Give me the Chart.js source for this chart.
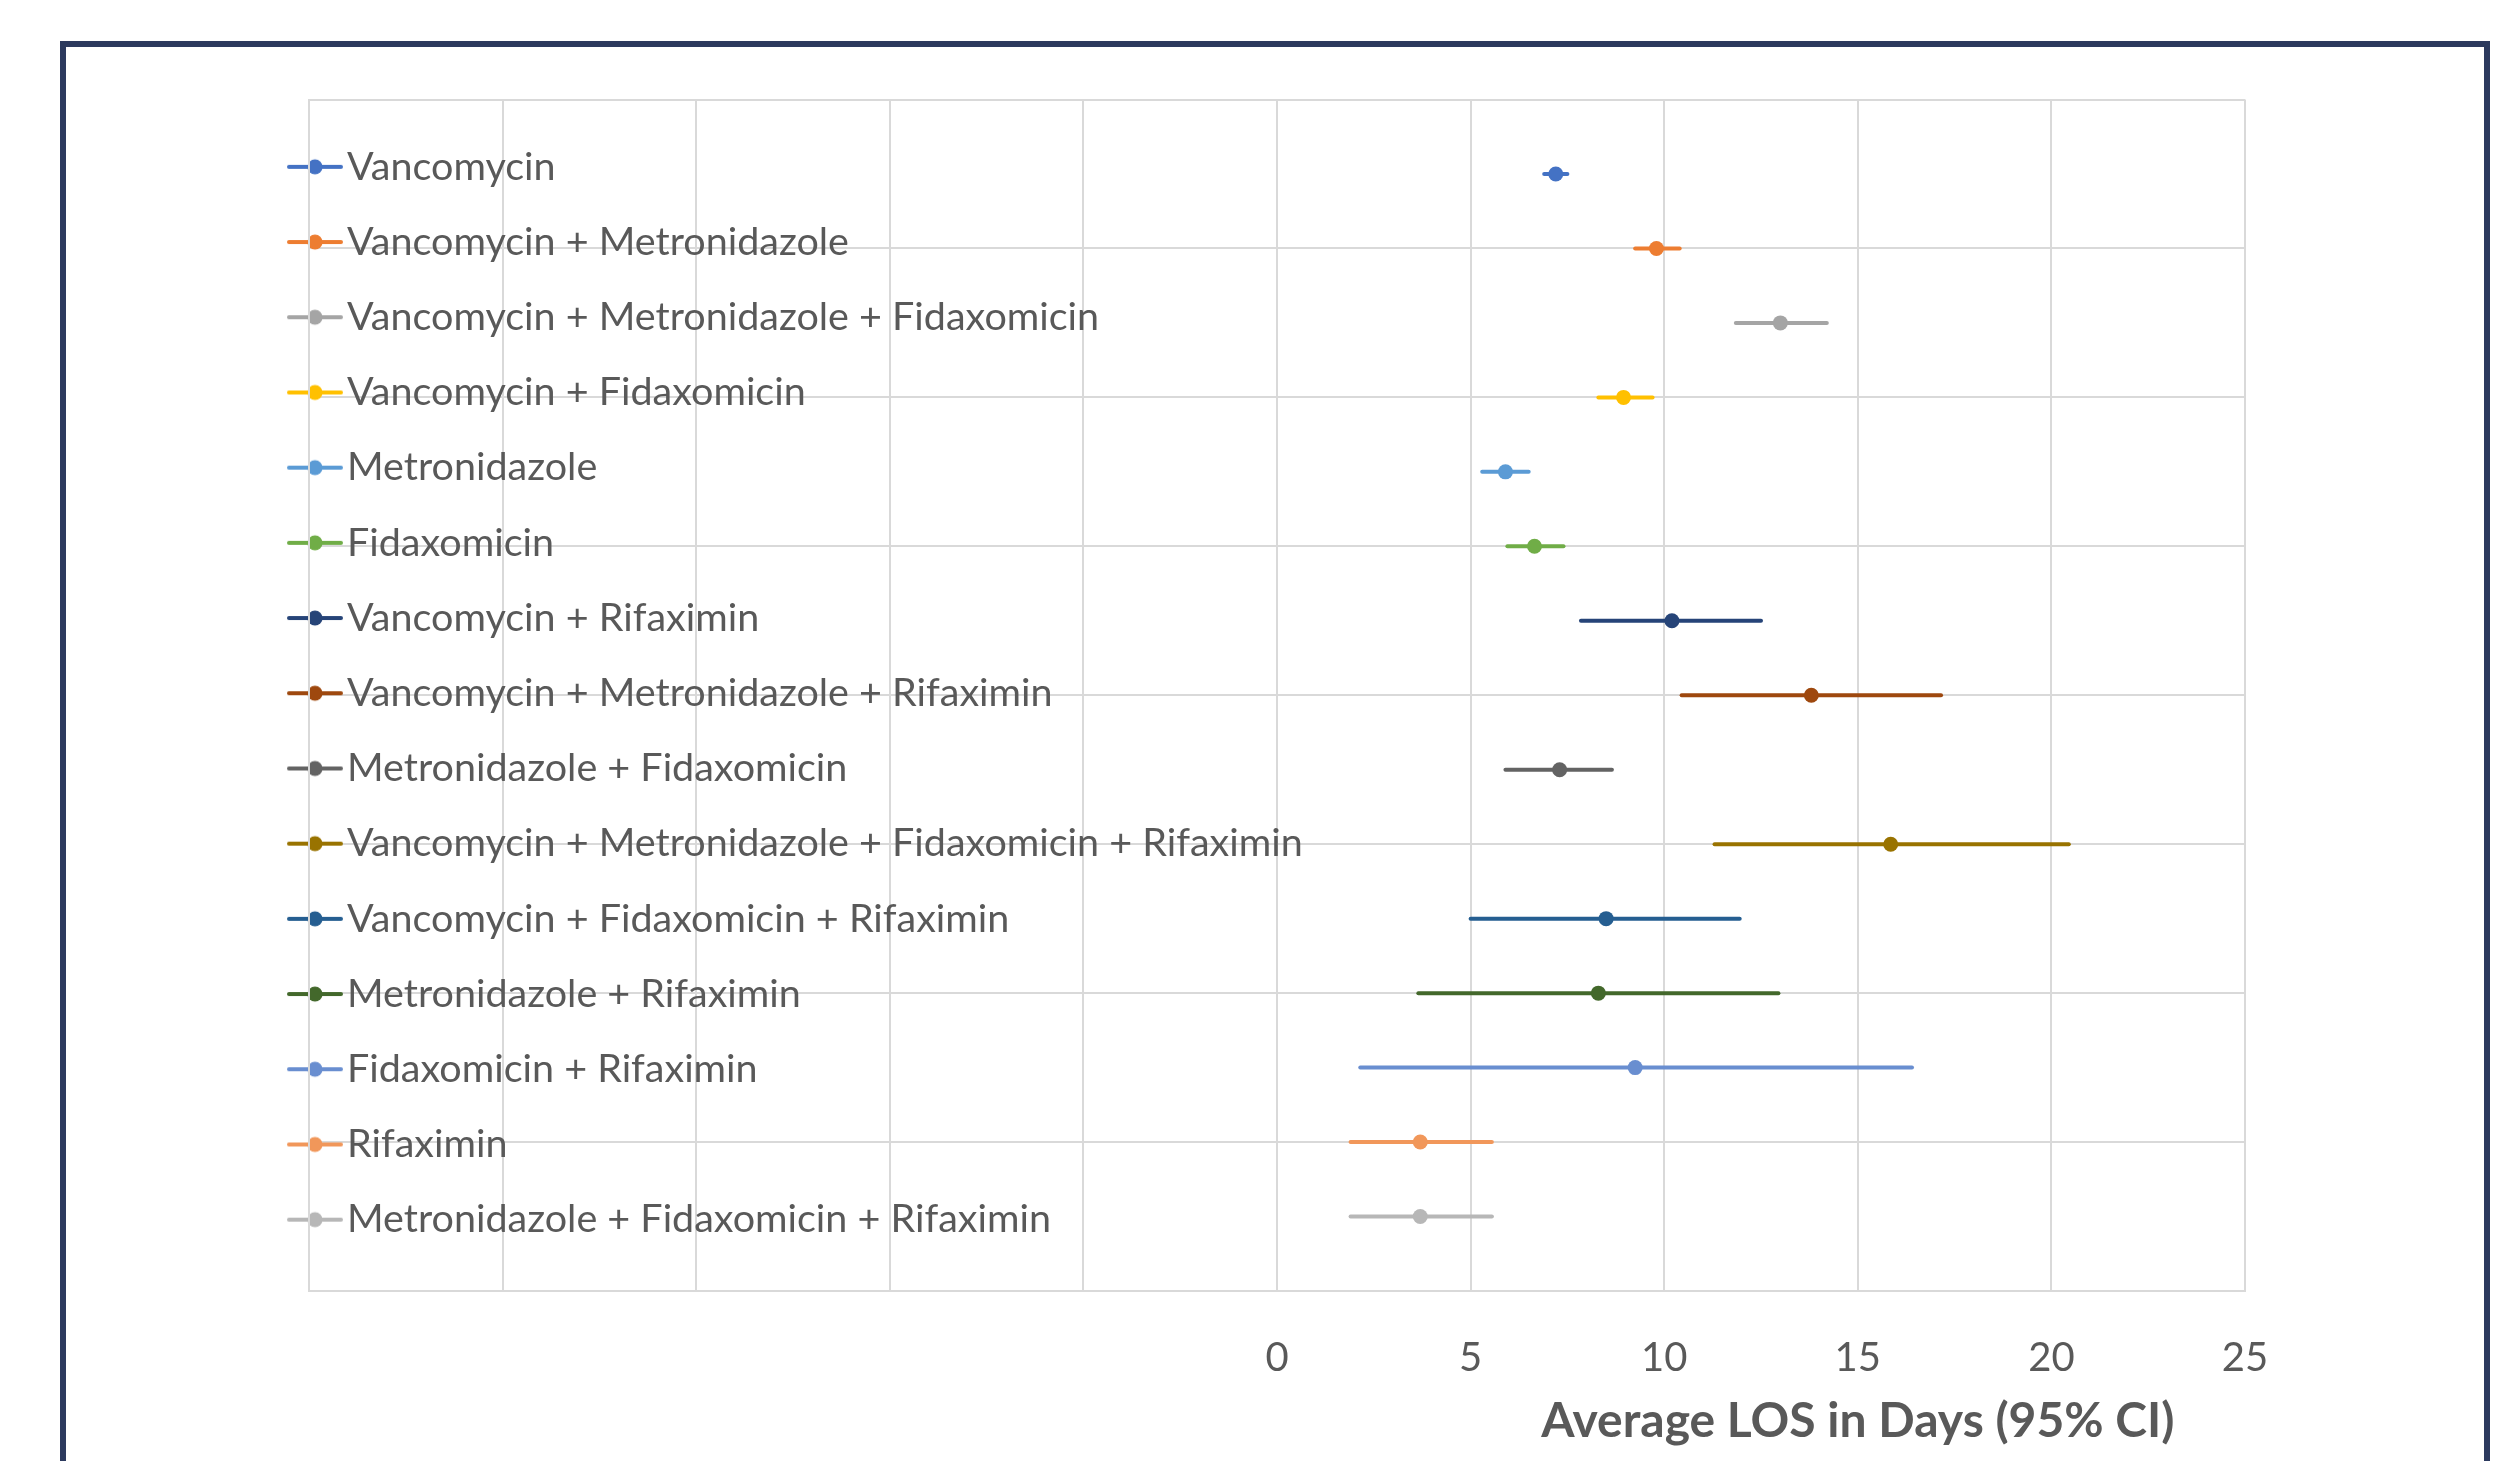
<!DOCTYPE html>
<html><head><meta charset="utf-8">
<script src="https://cdn.jsdelivr.net/npm/chart.js@4.4.1/dist/chart.umd.min.js"></script>
<style>
html,body{margin:0;padding:0;background:#fff;overflow:hidden;width:2514px;height:1461px;}
#wrap{position:relative;width:2514px;height:1461px;}
canvas{position:absolute;left:0;top:0;}
#frame{position:absolute;left:60px;top:41px;width:2418px;height:1600px;border:6px solid #2C3A5E;pointer-events:none;}
</style></head><body>
<div id="wrap"><canvas id="c" width="2514" height="1461"></canvas><div id="frame"></div></div>
<script>
// ---- data ----
const categories = [
  'Vancomycin',
  'Vancomycin + Metronidazole',
  'Vancomycin + Metronidazole + Fidaxomicin',
  'Vancomycin + Fidaxomicin',
  'Metronidazole',
  'Fidaxomicin',
  'Vancomycin + Rifaximin',
  'Vancomycin + Metronidazole + Rifaximin',
  'Metronidazole + Fidaxomicin',
  'Vancomycin + Metronidazole + Fidaxomicin + Rifaximin',
  'Vancomycin + Fidaxomicin + Rifaximin',
  'Metronidazole + Rifaximin',
  'Fidaxomicin + Rifaximin',
  'Rifaximin',
  'Metronidazole + Fidaxomicin + Rifaximin'
];
const means = [7.2, 9.8, 13.0, 8.95, 5.9, 6.65, 10.2, 13.8, 7.3, 15.85, 8.5, 8.3, 9.25, 3.7, 3.7];
const lower = [6.9, 9.25, 11.85, 8.3, 5.3, 5.95, 7.85, 10.45, 5.9, 11.3, 5.0, 3.65, 2.15, 1.9, 1.9];
const upper = [7.5, 10.4, 14.2, 9.7, 6.5, 7.4, 12.5, 17.15, 8.65, 20.45, 11.95, 12.95, 16.4, 5.55, 5.55];
const colors = ['#4472C4','#ED7D31','#A5A5A5','#FFC000','#5B9BD5','#70AD47','#264478','#9E480E',
                '#636363','#997300','#255E91','#43682B','#698ED0','#F1975A','#B7B7B7'];
const xTickLabels = [0, 5, 10, 15, 20, 25];
const axisTitle = 'Average LOS in Days (95% CI)';

// ---- styling / layout ----
const TEXT = '#595959', GRID = '#D9D9D9';
const LEG_FS = 39.5, LEG_PAD = 35.7;
const titleCenterValue = 15;

function markerImage(color) {
  const c = document.createElement('canvas');
  c.width = 56; c.height = 18;
  const g = c.getContext('2d');
  g.strokeStyle = color; g.lineWidth = 4; g.lineCap = 'round';
  g.beginPath(); g.moveTo(2, 9); g.lineTo(54, 9); g.stroke();
  g.fillStyle = color; g.beginPath(); g.arc(28, 9, 7.6, 0, Math.PI * 2); g.fill();
  return c;
}
const markers = colors.map(markerImage);

const datasets = categories.map((name, i) => ({
  label: name,
  data: [{x: lower[i], y: i + 1}, {x: means[i], y: i + 1}, {x: upper[i], y: i + 1}],
  showLine: true,
  borderColor: colors[i],
  backgroundColor: colors[i],
  borderWidth: 4,
  borderCapStyle: 'round',
  pointRadius: [0, 7.5, 0],
  pointHoverRadius: [0, 7.5, 0],
  pointBorderWidth: 0,
  pointBackgroundColor: colors[i]
}));

const placeLegend = {
  id: 'placeLegend',
  afterLayout(chart) {
    const lg = chart.legend, a = chart.chartArea;
    lg.left = a.left - 6.25 - LEG_PAD;
    lg.right = lg.left + lg.width;
    lg.top = a.top - 2;
    lg.bottom = a.bottom - 2;
    lg.height = lg.bottom - lg.top;
  }
};
const axisTitlePlugin = {
  id: 'axisTitleOffset',
  afterDraw(chart) {
    const {ctx} = chart, x = chart.scales.x;
    ctx.save();
    ctx.font = 'bold 48px Lato';
    ctx.fillStyle = TEXT;
    ctx.textAlign = 'center';
    ctx.textBaseline = 'middle';
    ctx.fillText(axisTitle, x.getPixelForValue(titleCenterValue), x.bottom - 39);
    ctx.restore();
  }
};

function build() {
  new Chart(document.getElementById('c'), {
    type: 'scatter',
    data: {datasets},
    plugins: [placeLegend, axisTitlePlugin],
    options: {
      responsive: false,
      devicePixelRatio: 1,
      animation: false,
      layout: {padding: {left: 309, top: 99.5, right: 269, bottom: 0}},
      plugins: {
        tooltip: {enabled: false},
        legend: {
          position: 'chartArea',
          align: 'center',
          labels: {
            usePointStyle: true,
            pointStyleWidth: 24.5,
            padding: LEG_PAD,
            color: TEXT,
            font: {family: 'Lato', size: LEG_FS},
            generateLabels(chart) {
              const items = Chart.defaults.plugins.legend.labels.generateLabels(chart);
              items.forEach((it, i) => { it.pointStyle = markers[i]; });
              return items;
            }
          }
        }
      },
      scales: {
        x: {
          type: 'linear',
          min: -25, max: 25,
          afterFit(s) { s.height = 170; },
          ticks: {
            stepSize: 5,
            padding: 43,
            color: TEXT,
            font: {family: 'Lato', size: 40},
            callback: v => xTickLabels.includes(v) ? String(v) : ''
          },
          grid: {color: GRID, lineWidth: 2, drawTicks: false},
          border: {color: GRID, width: 2}
        },
        y: {
          type: 'linear',
          min: 0, max: 16, reverse: true,
          afterFit(s) { s.width = 0; },
          ticks: {stepSize: 2, display: false},
          grid: {color: GRID, lineWidth: 2, drawTicks: false},
          border: {color: GRID, width: 2}
        }
      }
    }
  });
}
if (document.fonts && document.fonts.load) {
  Promise.all([document.fonts.load('39.5px Lato'), document.fonts.load('bold 48px Lato')])
    .then(build, build);
} else { build(); }
</script>
</body></html>
